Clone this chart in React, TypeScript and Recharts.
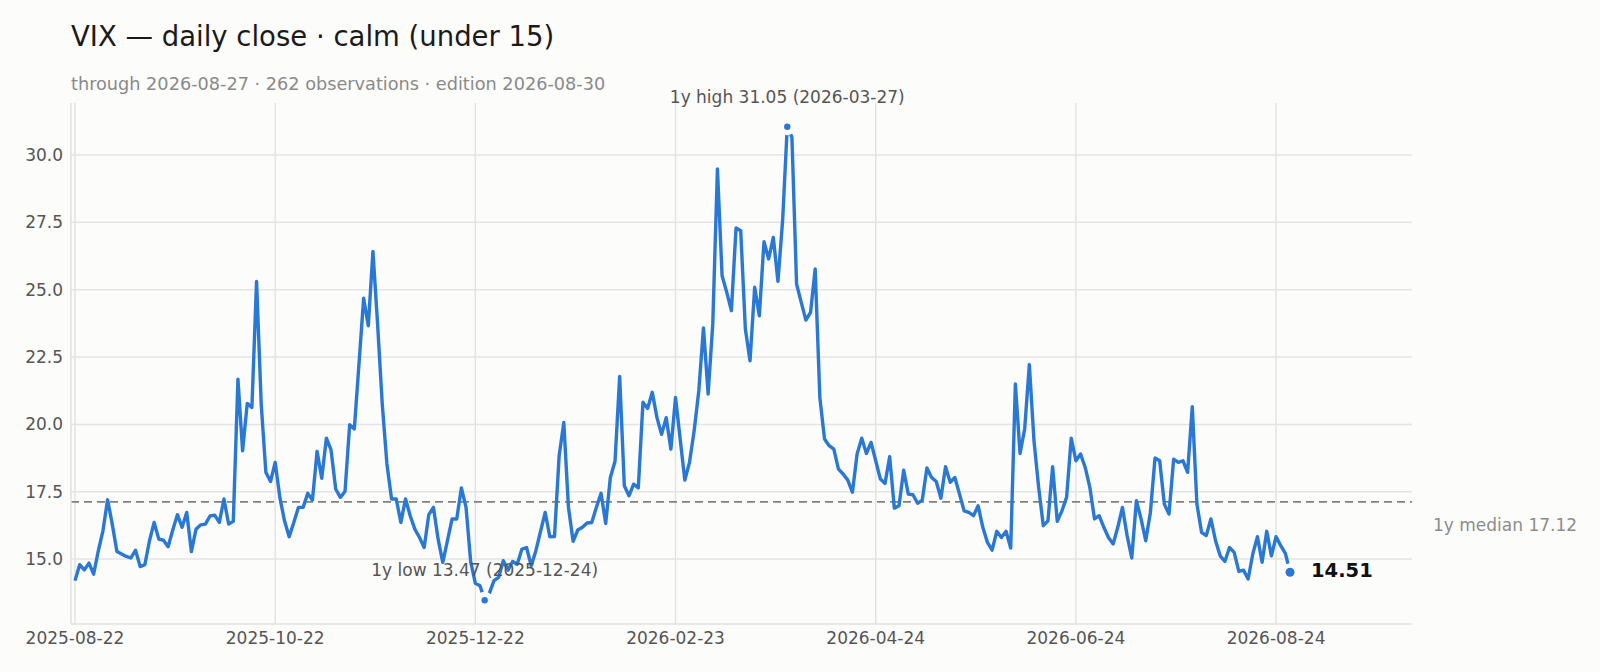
import { LineChart, Line, XAxis, YAxis, CartesianGrid, ReferenceLine } from 'recharts'

// VIX daily closes, 2025-08-22 .. 2026-08-27 (business days)
const CLOSES = [
  14.2, 14.79, 14.6, 14.85, 14.44, 15.3, 16.05, 17.2, 16.3, 15.28,
  15.19, 15.1, 15.04, 15.33, 14.72, 14.79, 15.68, 16.36, 15.74, 15.7,
  15.46, 16.08, 16.65, 16.18, 16.73, 15.28, 16.11, 16.27, 16.3, 16.6,
  16.63, 16.36, 17.23, 16.3, 16.4, 21.68, 19.02, 20.78, 20.63, 25.31,
  20.75, 18.22, 17.88, 18.59, 17.29, 16.42, 15.83, 16.36, 16.92, 16.92,
  17.44, 17.19, 19.0, 18.0, 19.49, 19.05, 17.6, 17.29, 17.51, 19.99,
  19.83, 22.24, 24.68, 23.66, 26.42, 23.72, 20.75, 18.53, 17.23, 17.23,
  16.36, 17.23, 16.61, 16.11, 15.8, 15.43, 16.65, 16.92, 15.74, 14.88,
  15.68, 16.49, 16.49, 17.64, 16.92, 14.9, 14.1, 14.01, 13.47, 13.73,
  14.2, 14.32, 14.94, 14.59, 14.91, 14.81, 15.37, 15.43, 14.75, 15.31,
  16.03, 16.73, 15.83, 15.84, 18.84, 20.07, 16.92, 15.66, 16.08, 16.18,
  16.34, 16.36, 16.92, 17.44, 16.32, 18.03, 18.63, 21.78, 17.72, 17.35,
  17.78, 17.64, 20.82, 20.59, 21.19, 20.26, 19.63, 20.25, 19.08, 21.0,
  19.45, 17.93, 18.59, 19.76, 21.25, 23.58, 21.13, 23.73, 29.48, 25.52,
  24.9, 24.22, 27.29, 27.19, 23.54, 22.36, 25.09, 24.03, 26.78, 26.14,
  26.94, 25.31, 27.56, 31.05, 30.66, 25.21, 24.53, 23.87, 24.16, 25.77,
  21.0, 19.46, 19.21, 19.08, 18.34, 18.16, 17.93, 17.48, 18.9, 19.49,
  18.92, 19.33, 18.65, 17.97, 17.81, 18.8, 16.89, 16.98, 18.3, 17.41,
  17.39, 17.07, 17.19, 18.38, 18.03, 17.88, 17.26, 18.43, 17.85, 18.03,
  17.41, 16.79, 16.73, 16.61, 16.98, 16.18, 15.62, 15.33, 16.03, 15.8,
  16.03, 15.41, 21.5, 18.92, 19.83, 22.22, 19.39, 17.66, 16.24, 16.42,
  18.43, 16.4, 16.79, 17.29, 19.49, 18.65, 18.9, 18.4, 17.66, 16.49,
  16.61, 16.18, 15.8, 15.56, 16.18, 16.92, 15.87, 15.04, 17.17, 16.49,
  15.68, 16.73, 18.75, 18.65, 17.04, 16.67, 18.71, 18.59, 18.65, 18.22,
  20.66, 17.04, 15.99, 15.87, 16.49, 15.68, 15.12, 14.91, 15.43, 15.25,
  14.54, 14.59, 14.26, 15.19, 15.83, 14.88, 16.03, 15.12, 15.83, 15.5,
  15.21, 14.51,
]

const X_TICKS = [0, 43, 86, 129, 172, 215, 258]
const X_TICK_LABELS = ['2025-08-22', '2025-10-22', '2025-12-22', '2026-02-23', '2026-04-24', '2026-06-24', '2026-08-24']
const Y_TICKS = [15, 17.5, 20, 22.5, 25, 27.5, 30]

const MEDIAN = 17.12
const LOW_DATE = '2025-12-24'
const HIGH_DATE = '2026-03-27'

const data = CLOSES.map((v, i) => ({ i, v }))

const lowIdx = CLOSES.indexOf(Math.min(...CLOSES))
const highIdx = CLOSES.indexOf(Math.max(...CLOSES))
const lastIdx = CLOSES.length - 1

const BG = '#fcfcfa'
const BLUE = '#2a78d6'
const FONT = '"DejaVu Sans", sans-serif'

function MarkerDot(props: any) {
  const { cx, cy, index } = props
  if (index === lowIdx || index === highIdx) {
    return (
      <g key={index}>
        <circle cx={cx} cy={cy} r={8.5} fill={BG} />
        <circle cx={cx} cy={cy} r={3.2} fill={BLUE} />
      </g>
    )
  }
  if (index === lastIdx) {
    return (
      <g key={index}>
        <circle cx={cx} cy={cy} r={9} fill={BG} />
        <circle cx={cx} cy={cy} r={4.5} fill={BLUE} />
        <text x={cx + 21} y={cy - 2} dominantBaseline="central" fontSize={19.5} fontWeight="bold" fill="#111" fontFamily={FONT}>
          {CLOSES[lastIdx].toFixed(2)}
        </text>
      </g>
    )
  }
  return <g key={index} />
}

// extremes labels sit under the line
function ExtremeLabel(props: any) {
  const { cx, cy, index } = props
  if (index !== lowIdx && index !== highIdx) return <g key={index} />
  const text = index === lowIdx
    ? `1y low ${CLOSES[lowIdx].toFixed(2)} (${LOW_DATE})`
    : `1y high ${CLOSES[highIdx].toFixed(2)} (${HIGH_DATE})`
  return (
    <text key={index} x={cx} y={cy - 30} textAnchor="middle" dominantBaseline="central" fontSize={17} fill="#555" fontFamily={FONT}>
      {text}
    </text>
  )
}

function MedianLabel(props: any) {
  const vb = props.viewBox || {}
  return (
    <text x={vb.x + vb.width + 21} y={vb.y + 23} dominantBaseline="central" fontSize={17} fill="#8c8c8c" fontFamily={FONT}>
      {`1y median ${MEDIAN.toFixed(2)}`}
    </text>
  )
}

export default function App() {
  return (
    <div style={{ position: 'relative', width: 1600, height: 672, background: BG, fontFamily: FONT }}>
      <style>{`body{margin:0;background:${BG}}`}</style>
      <svg width={1600} height={110} style={{ position: 'absolute', left: 0, top: 0 }}>
        <text x={71} y={46} fontSize={27.5} fill="#1a1a1a" fontFamily={FONT}>VIX — daily close · calm (under 15)</text>
        <text x={71} y={90} fontSize={17.7} fill="#8a8a8a" fontFamily={FONT}>through 2026-08-27 · 262 observations · edition 2026-08-30</text>
      </svg>
      <div style={{ position: 'absolute', left: 0, top: 0 }}>
        <LineChart width={1600} height={672} data={data} margin={{ top: 103, right: 188, left: 0, bottom: 0 }}>
          {/* syncWithTicks: no extra lines on the plot edges */}
          <CartesianGrid stroke="#e4e4e4" strokeWidth={1.5} syncWithTicks />
          <XAxis
            dataKey="i"
            type="number"
            domain={[-0.86, 287.2]}
            ticks={X_TICKS}
            interval={0}
            tickFormatter={(v: number) => X_TICK_LABELS[X_TICKS.indexOf(v)] ?? ''}
            tick={{ fontSize: 17, fill: '#555', fontFamily: FONT }}
            tickLine={false}
            tickSize={0}
            tickMargin={8}
            height={48}
            axisLine={{ stroke: '#e2e2e2', strokeWidth: 1.5 }}
          />
          <YAxis
            type="number"
            domain={[12.59, 31.93]}
            ticks={Y_TICKS}
            interval={0}
            tickFormatter={(v: number) => v.toFixed(1)}
            tick={{ fontSize: 17, fill: '#555', fontFamily: FONT }}
            tickLine={false}
            tickSize={0}
            tickMargin={8}
            width={71}
            axisLine={{ stroke: '#e2e2e2', strokeWidth: 1.5 }}
          />
          <ReferenceLine y={MEDIAN} stroke="#808080" strokeWidth={1.8} strokeDasharray="8 5" label={<MedianLabel />} />
          <Line dataKey="v" stroke="none" dot={ExtremeLabel} activeDot={false} isAnimationActive={false} />
          <Line
            dataKey="v"
            type="linear"
            stroke={BLUE}
            strokeWidth={3.4}
            strokeLinejoin="round"
            dot={MarkerDot}
            activeDot={false}
            isAnimationActive={false}
          />
        </LineChart>
      </div>
    </div>
  )
}
